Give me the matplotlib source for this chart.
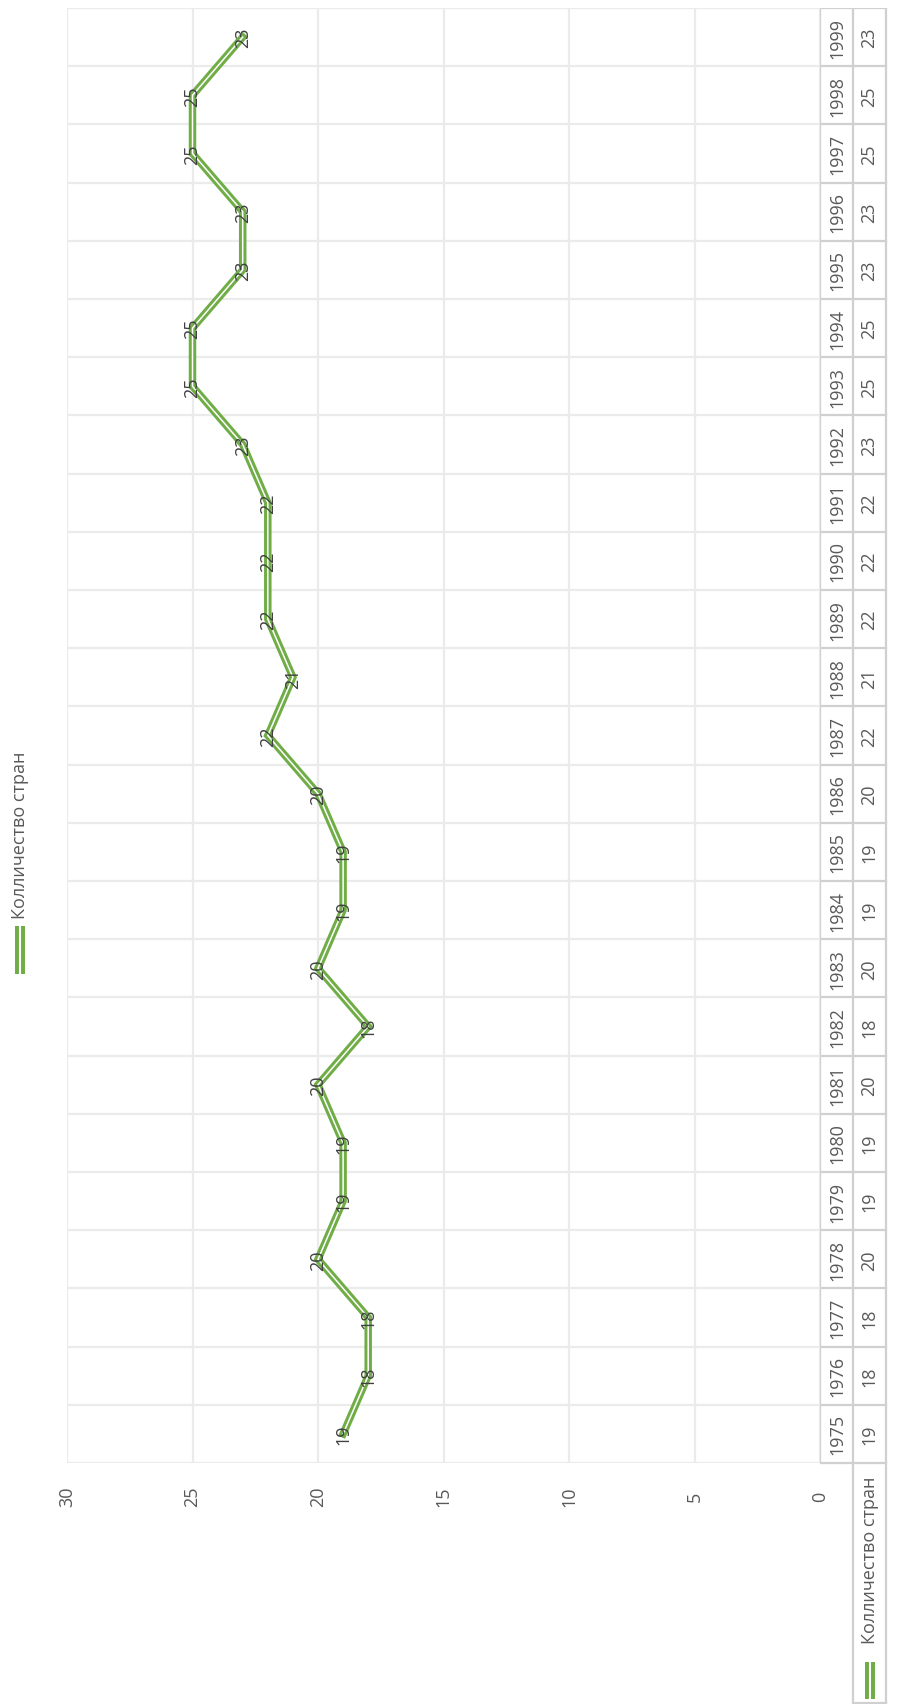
import matplotlib
matplotlib.use("Agg")
import matplotlib.pyplot as plt
from matplotlib.lines import Line2D

plt.rcParams['font.family'] = ['Open Sans', 'DejaVu Sans']

# data (Excel line chart with data table, rotated 90 degrees)
series_name = "Колличество стран"
years = ["1975", "1976", "1977", "1978", "1979", "1980", "1981", "1982", "1983",
         "1984", "1985", "1986", "1987", "1988", "1989", "1990", "1991", "1992",
         "1993", "1994", "1995", "1996", "1997", "1998", "1999"]
counts = [19, 18, 18, 20, 19, 19, 20, 18, 20, 19, 19, 20, 22, 21, 22, 22, 22, 23,
          25, 25, 23, 23, 25, 25, 23]
value_ticks = [0, 5, 10, 15, 20, 25, 30]

W, H = 897, 1708
GREEN = "#70AD47"
GRID = "#EBEBEB"
BORDER = "#D0D0D0"
TXT = "#595959"
LBL = "#404040"
FS = 13


def fx(x):
    return x / W


def fy(y):
    return 1 - y / H


fig = plt.figure(figsize=(W / 100, H / 100), dpi=100)

# plot area in pixels
L, R, T, B = 67, 820, 9, 1464
ax = fig.add_axes([fx(L), fy(B), fx(R) - fx(L), fy(T) - fy(B)])
n = len(years)
idx = list(range(n))
ax.set_xlim(30, 0)
ax.set_ylim(-0.5, n - 0.5)
ax.axis("off")

for v in value_ticks:
    ax.plot([v, v], [-0.5, n - 0.5], color=GRID, lw=1.6, zorder=1)
for k in range(n + 1):
    ax.plot([0, 30], [k - 0.5, k - 0.5], color=GRID, lw=1.6, zorder=1)

# double line
ax.plot(counts, idx, color=GREEN, lw=5.4, solid_joinstyle="miter", zorder=3)
ax.plot(counts, idx, color="white", lw=1.1, solid_joinstyle="miter", zorder=4)

for v, i in zip(counts, idx):
    ax.text(v, i, str(v), rotation=90, ha="center", va="center",
            fontsize=FS, color=LBL, zorder=5)

# value axis labels
row_h = (B - T) / n
for v in value_ticks:
    ax.text(v, -0.5 - 33 / row_h, str(v), rotation=90, ha="center", va="center",
            fontsize=FS, color=TXT)

# data table
TB = 1705
tab = fig.add_axes([fx(820), fy(TB), fx(888) - fx(820), fy(T) - fy(TB)])
extra = (TB - B) / row_h
tab.set_xlim(0, 2.06)
tab.set_ylim(-0.5 - extra, n - 0.5)
tab.axis("off")
for k in range(n + 1):
    tab.plot([0, 2], [k - 0.5, k - 0.5], color=BORDER, lw=1.6)
bot = -0.5 - extra + 0.02
tab.plot([0, 0], [-0.5, n - 0.5], color=BORDER, lw=1.6)
tab.plot([1, 1], [bot, n - 0.5], color=BORDER, lw=1.6)
tab.plot([2, 2], [bot, n - 0.5], color=BORDER, lw=1.6)
tab.plot([1, 2], [bot, bot], color=BORDER, lw=1.6)
for y, v, i in zip(years, counts, idx):
    tab.text(0.52, i, y, rotation=90, ha="center", va="center", fontsize=FS, color=TXT)
    tab.text(1.5, i, str(v), rotation=90, ha="center", va="center", fontsize=FS, color=TXT)


def legend_key(x, y0, y1):
    for lw, c in [(7.2, GREEN), (1.5, "white")]:
        fig.add_artist(Line2D([fx(x), fx(x)], [fy(y0), fy(y1)], color=c, lw=lw,
                              solid_capstyle="butt", transform=fig.transFigure))


# series name cell with legend key
fig.text(fx(870), fy(1560), series_name, rotation=90, ha="center", va="center",
         fontsize=FS, color=TXT)
legend_key(870, 1700, 1663)

# legend at the left
fig.text(fx(20), fy(835), series_name, rotation=90, ha="center", va="center",
         fontsize=FS, color=TXT)
legend_key(20, 975, 927)

fig.savefig("out.png", dpi=100, facecolor="white")
